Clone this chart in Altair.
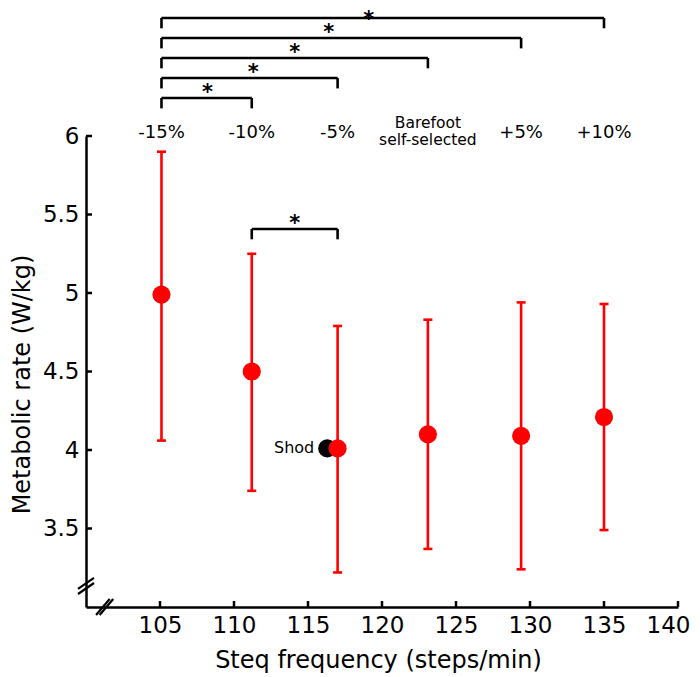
import altair as alt
import pandas as pd

# ---- data ----
conditions = ["-15%", "-10%", "-5%", "Barefoot\nself-selected", "+5%", "+10%"]
step_freq = [105.1, 111.2, 117.0, 123.1, 129.4, 135.0]
metab_mean = [4.99, 4.50, 4.01, 4.10, 4.09, 4.21]
metab_upper = [5.90, 5.25, 4.79, 4.83, 4.94, 4.93]
metab_lower = [4.06, 3.74, 3.22, 3.37, 3.24, 3.49]

shod_freq = [116.3]
shod_mean = [4.01]
shod_label = ["Shod"]

# significant pairwise comparisons (indices into conditions)
sig_pairs = [(0, 1), (0, 2), (0, 3), (0, 4), (0, 5), (1, 2)]

x_ticks = [105, 110, 115, 120, 125, 130, 135, 140]
y_ticks = [3.5, 4, 4.5, 5, 5.5, 6]

# ---- layout constants ----
W, H = 592, 471
FONT = "DejaVu Sans"
bracket_levels = [6.242, 6.369, 6.497, 6.624, 6.752, 5.408]
bracket_drop = 0.066
star_x = [108.2, 111.3, 114.1, 116.4, 119.1, 114.1]
star_shift = [0, 0, 0, 0, -0.045, 0]
label_y = [6.02, 6.02, 6.02, 6.085, 6.02, 6.02]
label_size = [18, 18, 18, 15.5, 18, 18]

xscale = alt.Scale(domain=[100, 140], nice=False, zero=False)
yscale = alt.Scale(domain=[3, 6], nice=False, zero=False)

df = pd.DataFrame({
    "cond": conditions, "freq": step_freq, "mean": metab_mean,
    "hi": metab_upper, "lo": metab_lower,
})
caps = pd.DataFrame({
    "freq": step_freq + step_freq,
    "v": metab_upper + metab_lower,
})
shod = pd.DataFrame({"freq": shod_freq, "mean": shod_mean, "label": shod_label})

br = pd.DataFrame({
    "x1": [step_freq[a] for a, b in sig_pairs],
    "x2": [step_freq[b] for a, b in sig_pairs],
    "lvl": bracket_levels,
    "low": [l - bracket_drop for l in bracket_levels],
    "sx": star_x,
    "sy": [l + s for l, s in zip(bracket_levels, star_shift)],
})
drops = pd.DataFrame({
    "x": list(br["x1"]) + list(br["x2"]),
    "lvl": bracket_levels + bracket_levels,
    "low": list(br["low"]) + list(br["low"]),
})
labels = pd.DataFrame({"freq": step_freq, "cond": conditions,
                       "ly": label_y, "fs": label_size})

xt = pd.DataFrame({"t": x_ticks})
yt = pd.DataFrame({"t": y_ticks})

# axis-break slashes (decoration)
slashes = pd.DataFrame({
    "xa": [99.46, 99.46, 100.68, 100.92],
    "xb": [100.54, 100.54, 101.6, 101.84],
    "ya": [3.115, 3.083, 2.949, 2.949],
    "yb": [3.185, 3.153, 3.051, 3.051],
})

x_axis = alt.Axis(
    values=x_ticks, ticks=False, tickSize=0, grid=False, labelFlush=False,
    labelOffset=alt.condition("datum.value == 140", alt.value(-10), alt.value(0)),
    domainColor="black", domainWidth=2.5,
    labelFont=FONT, labelFontSize=23, labelColor="black", labelPadding=7,
    title="Steq frequency (steps/min)", titleFont=FONT, titleFontSize=24,
    titleFontWeight="normal", titleColor="black",
    titleX=292, titleY=60, titleBaseline="alphabetic", titleAlign="center",
)
y_axis = alt.Axis(
    values=y_ticks, ticks=False, tickSize=0, grid=False, labelFlush=False,
    format="~g",
    domainColor="black", domainWidth=2.5,
    labelFont=FONT, labelFontSize=23, labelColor="black", labelPadding=7,
    title="Metabolic rate (W/kg)", titleFont=FONT, titleFontSize=24,
    titleFontWeight="normal", titleColor="black",
    titleX=-57, titleY=248, titleBaseline="alphabetic", titleAlign="center",
    titleAngle=-90,
)


def X(field):
    return alt.X(field, scale=xscale, axis=x_axis)


def Y(field):
    return alt.Y(field, scale=yscale, axis=y_axis)


base = alt.Chart(df)

errbars = base.mark_rule(color="#ff0000", strokeWidth=2.6).encode(
    x=X("freq:Q"), y=Y("lo:Q"), y2="hi:Q",
)
capmarks = alt.Chart(caps).mark_rule(
    color="#ff0000", strokeWidth=2.6, xOffset=-4.5, x2Offset=4.5
).encode(x=X("freq:Q"), x2="freq:Q", y=Y("v:Q"))
shod_pt = alt.Chart(shod).mark_circle(size=330, color="black", opacity=1).encode(
    x=X("freq:Q"), y=Y("mean:Q"),
)
shod_txt = alt.Chart(shod).mark_text(
    font=FONT, fontSize=16, align="right", baseline="middle", dx=-13, color="black"
).encode(x=X("freq:Q"), y=Y("mean:Q"), text="label:N")
points = base.mark_circle(size=330, color="#ff0000", opacity=1).encode(
    x=X("freq:Q"), y=Y("mean:Q"),
)

hbr = alt.Chart(br).mark_rule(color="black", strokeWidth=2.6).encode(
    x=X("x1:Q"), x2="x2:Q", y=Y("lvl:Q"),
)
vbr = alt.Chart(drops).mark_rule(color="black", strokeWidth=2.6).encode(
    x=X("x:Q"), y=Y("lvl:Q"), y2="low:Q",
)
stars = alt.Chart(br).mark_text(
    text="*", font=FONT, fontSize=21, fontWeight="bold", color="black",
    baseline="alphabetic", dy=1
).encode(x=X("sx:Q"), y=Y("sy:Q"))
cond_labels = alt.Chart(labels).mark_text(
    font=FONT, color="black", baseline="middle", lineBreak="\n", lineHeight=17,
).encode(
    x=X("freq:Q"), y=Y("ly:Q"), text="cond:N",
    size=alt.Size("fs:Q", scale=None, legend=None),
)

xtick_marks = alt.Chart(xt).mark_rule(color="black", strokeWidth=2.5).encode(
    x=X("t:Q"), y=alt.value(H), y2=alt.value(H - 6),
)
ytick_marks = alt.Chart(yt).mark_rule(color="black", strokeWidth=2.5).encode(
    y=Y("t:Q"), x=alt.value(0), x2=alt.value(6),
)
slash_marks = alt.Chart(slashes).mark_rule(color="black", strokeWidth=2.2).encode(
    x=X("xa:Q"), x2="xb:Q", y=Y("ya:Q"), y2="yb:Q",
)

chart = alt.layer(
    errbars, capmarks, shod_pt, shod_txt, points, hbr, vbr, stars,
    cond_labels, xtick_marks, ytick_marks, slash_marks,
).properties(
    width=W, height=H,
    padding={"left": 78, "top": 128, "right": 14, "bottom": 66},
    autosize=alt.AutoSizeParams(type="none"),
    background="white",
).configure_view(strokeWidth=0, stroke="transparent")

chart.save("out.html", embed_options={"renderer": "svg", "actions": False})
